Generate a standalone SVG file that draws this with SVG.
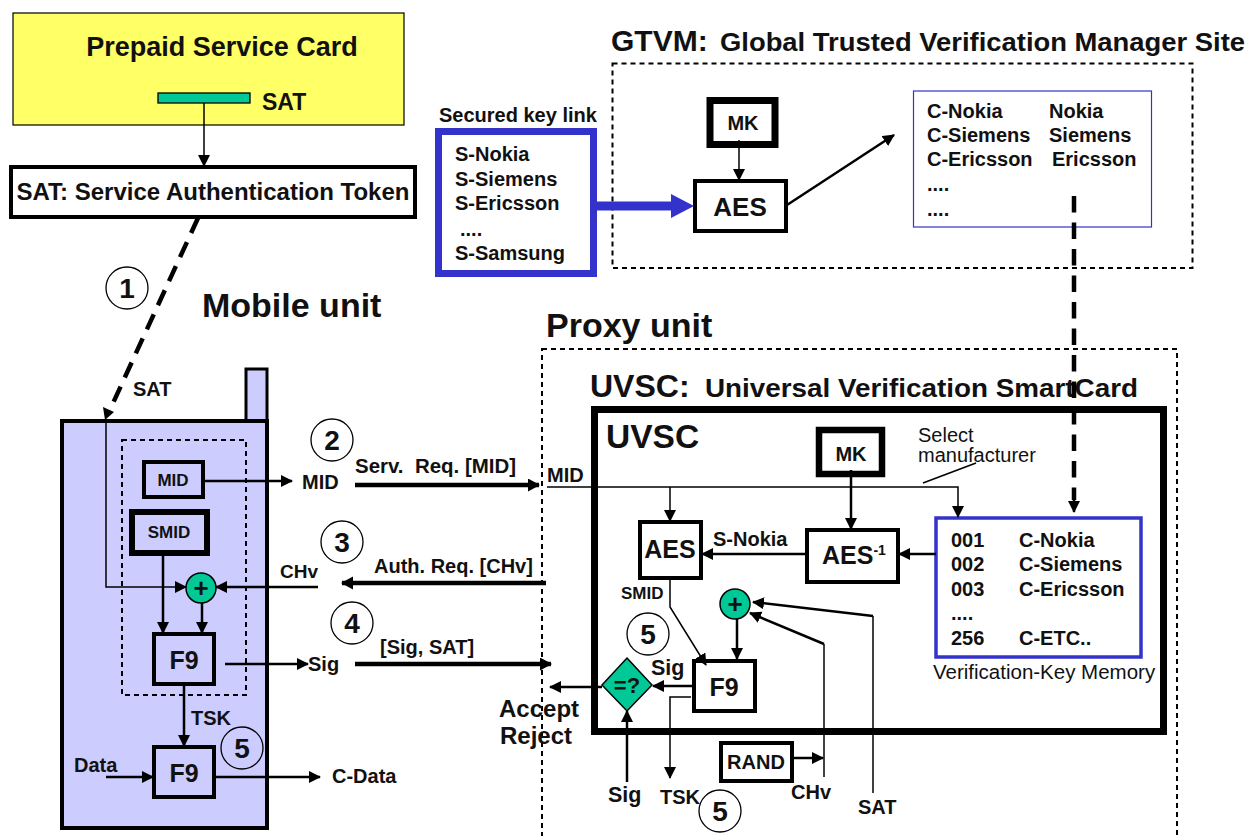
<svg xmlns="http://www.w3.org/2000/svg" width="1248" height="836" viewBox="0 0 1248 836">
<style>
text{font-family:"Liberation Sans",Arial,sans-serif;font-weight:700;fill:#111}
.n{font-weight:400}
.box{fill:#fff;stroke:#000;stroke-width:4}
.pbox{fill:#ccf;stroke:#000;stroke-width:4}
.dash{fill:none;stroke:#000;stroke-width:2;stroke-dasharray:5 4}
.l1{fill:none;stroke:#000;stroke-width:1.5}
.l2{fill:none;stroke:#000;stroke-width:2.5;marker-end:url(#a)}
.l1a{fill:none;stroke:#000;stroke-width:1.5;marker-end:url(#a)}
.l3{fill:none;stroke:#000;stroke-width:4.5;marker-end:url(#a3)}
.ld{fill:none;stroke:#000;stroke-width:4.5;stroke-dasharray:16.5 10}
.circ{fill:none;stroke:#000;stroke-width:1.3}
.green{fill:#00c896;stroke:#000;stroke-width:1.5}
.num{font-size:28px;text-anchor:middle}
.s21{font-size:21.5px}.s20{font-size:20px}.s19{font-size:19px}.s17{font-size:17px}
.c{text-anchor:middle}
</style>
<defs>
<marker id="a" markerUnits="userSpaceOnUse" markerWidth="14" markerHeight="14" refX="11" refY="6" orient="auto"><path d="M0 0L12 6L0 12z" fill="#000"/></marker>
<marker id="a3" markerUnits="userSpaceOnUse" markerWidth="14" markerHeight="14" refX="11" refY="6.5" orient="auto"><path d="M0 0L12 6.5L0 13z" fill="#000"/></marker>
</defs>

<g id="prepaid-card"><rect x="13" y="13" width="391" height="112" fill="#ffff66" stroke="#000" stroke-width="1.2"/><text x="222" y="56" class="c" font-size="27">Prepaid Service Card</text><rect x="158" y="93" width="92" height="10" fill="#00c896" stroke="#000" stroke-width="1.3"/><text x="262" y="110" font-size="23">SAT</text></g>
<g id="sat-token"><rect x="11" y="167" width="404" height="50" class="box"/><text x="213" y="200" class="c" font-size="24">SAT: Service Authentication Token</text></g>
<text x="202" y="317" font-size="34">Mobile unit</text>
<text x="546" y="337" font-size="34">Proxy unit</text>
<text x="611" y="51" font-size="30">GTVM:</text><text x="720" y="51" font-size="26" textLength="525" lengthAdjust="spacingAndGlyphs">Global Trusted Verification Manager Site</text>

<g id="phone"><rect x="246" y="369" width="21" height="52" class="pbox" style="stroke-width:3"/><rect x="62" y="421" width="205" height="407" class="pbox"/><rect x="122" y="440" width="124" height="255" class="dash"/><text x="133" y="396" class="s20">SAT</text></g>
<g id="mid"><rect x="144" y="462" width="59" height="35" class="pbox"/><text x="173" y="486" class="c s17">MID</text></g>
<g id="smid"><rect x="132" y="512" width="75" height="41" class="pbox" style="stroke-width:6"/><text x="169" y="538" class="c s17">SMID</text></g>
<g id="f9a"><rect x="154" y="634" width="60" height="50" class="pbox"/><text x="184" y="669" class="c" font-size="25">F9</text></g>
<g id="f9b"><rect x="154" y="747" width="60" height="50" class="pbox"/><text x="184" y="782" class="c" font-size="25">F9</text></g>
<g id="xor1"><circle cx="201" cy="588" r="15" class="green"/><text x="201" y="597" class="c" font-size="26">+</text></g>

<g id="secured-key"><text x="439" y="122" class="s20">Secured key link</text><rect x="438.5" y="131.5" width="155" height="142" fill="#fff" stroke="#33c" stroke-width="7"/><text x="455" y="161" class="s20">S-Nokia</text><text x="455" y="186" class="s20">S-Siemens</text><text x="455" y="210" class="s20">S-Ericsson</text><text x="460" y="236" class="s20">....</text><text x="455" y="260" class="s20">S-Samsung</text></g>
<g id="gtvm"><rect x="612.5" y="63.5" width="580" height="204.5" class="dash"/></g>
<g id="mk1"><rect x="710" y="100.5" width="65" height="44" class="box" style="stroke-width:7"/><text x="743" y="130" class="c s20">MK</text></g>
<g id="aes1"><rect x="695" y="181" width="91" height="50" class="box"/><text x="740" y="216" class="c" font-size="26">AES</text></g>
<g id="key-list"><rect x="913.5" y="91" width="238" height="136" fill="#fff" stroke="#33c" stroke-width="1.2"/><text x="927" y="118" class="s20">C-Nokia</text><text x="1049" y="118" class="s20">Nokia</text><text x="927" y="142" class="s20">C-Siemens</text><text x="1049" y="142" class="s20">Siemens</text><text x="927" y="166" class="s20">C-Ericsson</text><text x="1052" y="166" class="s20">Ericsson</text><text x="927" y="191" class="s20">....</text><text x="927" y="216" class="s20">....</text></g>

<g id="proxy"><rect x="542" y="349" width="635" height="500" class="dash"/><text x="590" y="397" font-size="32">UVSC:</text><text x="705" y="397" font-size="26" textLength="433" lengthAdjust="spacingAndGlyphs">Universal Verification SmartCard</text></g>
<g id="uvsc"><rect x="594.5" y="409.5" width="569" height="322" fill="#fff" stroke="#000" stroke-width="7"/><text x="606" y="448" font-size="33.5">UVSC</text></g>
<g id="mk2"><rect x="819" y="430" width="63" height="44" class="box" style="stroke-width:6.5"/><text x="851" y="461" class="c s20">MK</text></g>
<g id="aes2"><rect x="640" y="522" width="61" height="56" class="box"/><text x="670" y="558" class="c" font-size="25">AES</text></g>
<g id="aesi"><rect x="807" y="530" width="91" height="52" class="box"/><text x="822" y="564" font-size="25">AES<tspan font-size="14" dy="-9">-1</tspan></text></g>
<g id="vk-mem"><rect x="936" y="518" width="205" height="139" fill="#fff" stroke="#33c" stroke-width="3.5"/><text x="951" y="547" class="s20">001</text><text x="1019" y="547" class="s20">C-Nokia</text><text x="951" y="571" class="s20">002</text><text x="1019" y="571" class="s20">C-Siemens</text><text x="951" y="596" class="s20">003</text><text x="1019" y="596" class="s20">C-Ericsson</text><text x="951" y="620" class="s20">....</text><text x="951" y="645" class="s20">256</text><text x="1019" y="645" class="s20">C-ETC..</text><text x="933" y="679" class="n" font-size="20.5">Verification-Key Memory</text></g>
<g id="f9c"><rect x="694" y="661" width="61" height="50" class="box"/><text x="724" y="696" class="c" font-size="25">F9</text></g>
<g id="xor2"><circle cx="735" cy="604" r="15" class="green"/><text x="735" y="613" class="c" font-size="26">+</text></g>
<g id="cmp"><path d="M627 658L652 685L627 711L602 685z" class="green"/><text x="627" y="693" class="c" font-size="22">=?</text></g>
<g id="rand"><rect x="721" y="743" width="71" height="38" class="box"/><text x="756" y="769" class="c s20">RAND</text></g>

<g id="labels">
<text x="302" y="489" class="s20">MID</text><text x="355" y="473" class="s20" xml:space="preserve" textLength="161" lengthAdjust="spacingAndGlyphs">Serv.  Req. [MID]</text><text x="547" y="482" class="s20">MID</text>
<text x="280" y="578" class="s19">CHv</text><text x="374" y="573" class="s20">Auth. Req. [CHv]</text>
<text x="308" y="671" class="s20">Sig</text><text x="380" y="654" class="s20">[Sig, SAT]</text>
<text x="191" y="725" class="s20">TSK</text><text x="74" y="772" class="s20">Data</text><text x="332" y="783" class="s20">C-Data</text>
<text x="499" y="717" font-size="24">Accept</text><text x="500" y="744" font-size="24">Reject</text>
<text x="918" y="442" class="n s20">Select</text><text x="918" y="462" class="n s20">manufacturer</text>
<text x="713" y="546" class="s20">S-Nokia</text><text x="621" y="599" class="s17">SMID</text><text x="651" y="675" class="s21">Sig</text>
<text x="608" y="802" class="s21">Sig</text><text x="660" y="804" class="s20">TSK</text><text x="791" y="799" class="s20">CHv</text><text x="858" y="814" class="s20">SAT</text>
</g>

<g id="steps">
<circle cx="127" cy="288" r="21" class="circ"/><text x="127" y="298" class="num">1</text>
<circle cx="332" cy="440" r="21" class="circ"/><text x="332" y="450" class="num">2</text>
<circle cx="342" cy="542" r="21" class="circ"/><text x="342" y="552" class="num">3</text>
<circle cx="352" cy="623" r="21" class="circ"/><text x="352" y="633" class="num">4</text>
<circle cx="242" cy="748" r="21" class="circ"/><text x="242" y="758" class="num">5</text>
<circle cx="648" cy="634" r="21" class="circ"/><text x="648" y="644" class="num">5</text>
<circle cx="720" cy="811" r="21" class="circ"/><text x="720" y="821" class="num">5</text>
</g>

<g id="connectors">
<path d="M204 103V166" class="l1a"/>
<path d="M198 218L108 414" class="ld"/><path d="M103 407L114 412L105 420z" fill="#000"/>
<path d="M106 420V587H186" class="l1a"/>
<path d="M163 555V633" class="l2"/><path d="M202 603V633" class="l2"/>
<path d="M318 587H216" class="l2"/>
<path d="M204 481H292" class="l2"/>
<path d="M355 485H539" class="l3"/>
<path d="M546 583H342" class="l3"/>
<path d="M225 664H308" class="l2"/>
<path d="M355 664H551" class="l3"/>
<path d="M184 685V746" class="l2"/>
<path d="M106 777H153" class="l2"/>
<path d="M215 777H320" class="l2"/>
<path d="M597 206H672" fill="none" stroke="#33c" stroke-width="9"/><path d="M671 194L694 206L671 218z" fill="#33c"/>
<path d="M739 140V180" class="l1a"/>
<path d="M787 205L894 135" class="l2"/>
<path d="M1074 196V500" class="ld"/>
<path d="M1074 495V512" class="l2"/>
<path d="M547 487H958V517" class="l1a"/>
<path d="M670 487V521" class="l1a"/>
<path d="M851 470V529" class="l2"/>
<path d="M936 554H899" class="l2"/>
<path d="M806 554H702" class="l2"/>
<path d="M923 483L976 463" class="l1"/>
<path d="M670 578V607L706 665" class="l1a"/>
<path d="M737 619V659" class="l2"/>
<path d="M824 777V644" class="l1"/><path d="M824 644L750 613" class="l2"/>
<path d="M873 793V616" class="l1"/><path d="M873 616L753 602" class="l2"/>
<path d="M693 686H653" class="l2"/>
<path d="M602 687H550" class="l2"/>
<path d="M691 697H670V778" class="l1a"/>
<path d="M627 782V711" class="l2"/>
<path d="M793 758H823" class="l2"/>
</g>
</svg>
